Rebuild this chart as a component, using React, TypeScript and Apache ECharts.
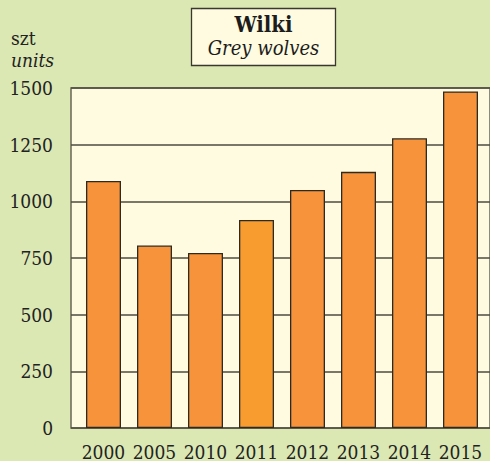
import React, { useEffect, useRef } from "react";
import * as echarts from "echarts";

const years = ["2000", "2005", "2010", "2011", "2012", "2013", "2014", "2015"];
const wolves = [1090, 805, 772, 918, 1050, 1130, 1278, 1485];
const yTicks = [0, 250, 500, 750, 1000, 1250, 1500];

const FONT = "DejaVu Serif Condensed, DejaVu Serif";

export default function App() {
  const ref = useRef<HTMLDivElement>(null);
  useEffect(() => {
    if (!ref.current) return;
    const chart = echarts.init(ref.current, null, { renderer: "svg" });
    const barColor = (i: number) => (years[i] === "2011" ? "#f99c30" : "#f7933a");
    chart.setOption({
      animation: false,
      backgroundColor: "#dbe8b3",
      textStyle: { fontFamily: FONT },
      grid: [
        {
          left: 71, top: 88, right: -6, bottom: 33,
          show: true, backgroundColor: "#fefbe0", borderColor: "#6a6656", borderWidth: 1.5,
        },
        { left: 78, top: 88, width: 408, bottom: 33 },
      ],
      xAxis: [
        { gridIndex: 0, type: "category", data: years, show: false },
        {
          gridIndex: 1, type: "category", data: years,
          axisLine: { show: false }, axisTick: { show: false },
          axisLabel: { color: "#222", fontFamily: FONT, fontSize: 19, margin: 14, interval: 0 },
        },
      ],
      yAxis: [
        {
          gridIndex: 0, type: "value", min: yTicks[0], max: yTicks[yTicks.length - 1], interval: 250,
          axisLine: { show: false }, axisTick: { show: false },
          axisLabel: {
            color: "#222", fontFamily: FONT, fontSize: 19, margin: 18,
            formatter: (v: number) => String(v),
          },
          splitLine: { show: true, lineStyle: { color: "#4f4b40", width: 1.5 } },
        },
        {
          gridIndex: 1, type: "value", min: 0, max: 1500, interval: 250, show: false,
          splitLine: { show: false },
        },
      ],
      series: [
        {
          type: "bar", xAxisIndex: 1, yAxisIndex: 1, barWidth: 35,
          data: wolves.map((v, i) => ({
            value: v,
            itemStyle: { color: barColor(i), borderColor: "#2e2a22", borderWidth: 1.3 },
          })),
        },
      ],
      graphic: [
        {
          type: "rect", shape: { x: 191.5, y: 8.5, width: 144, height: 57 },
          style: { fill: "#fefbe0", stroke: "#3a372e", lineWidth: 1.3 },
        },
        {
          type: "text", x: 263.5, y: 13,
          style: { text: "Wilki", fontFamily: FONT, fontWeight: "bold", fontSize: 22, fill: "#1c1c1c", align: "center" },
        },
        {
          type: "text", x: 263.5, y: 38,
          style: { text: "Grey wolves", fontFamily: FONT, fontStyle: "italic", fontSize: 20, fill: "#1c1c1c", align: "center" },
        },
        {
          type: "text", x: 11, y: 28,
          style: { text: "szt", fontFamily: FONT, fontSize: 19, fill: "#222" },
        },
        {
          type: "text", x: 11, y: 50,
          style: { text: "units", fontFamily: FONT, fontStyle: "italic", fontSize: 19, fill: "#222" },
        },
      ],
    });
    return () => chart.dispose();
  }, []);
  return <div ref={ref} style={{ width: 490, height: 461, position: "absolute", left: 0, top: 0 }} />;
}
